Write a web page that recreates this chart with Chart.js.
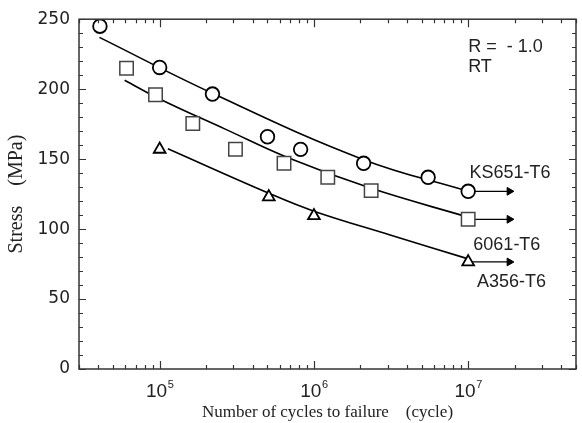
<!DOCTYPE html>
<html>
<head>
<meta charset="utf-8">
<script src="https://cdn.jsdelivr.net/npm/chart.js@4.4.1/dist/chart.umd.min.js"></script>
<style>
  html, body { margin: 0; padding: 0; background: #fff; }
</style>
</head>
<body>
<canvas id="grafico" width="582" height="423"></canvas>
<script>
// KS651-T6 (circulos)
const ks651X = [4.1e4, 1e5, 2.2e5, 5e5, 8.2e5, 2.1e6, 5.5e6, 1e7];
const ks651Y = [245, 215.5, 196.5, 166, 157, 147, 137, 127];
const ks651FitX = [4.07e4, 2.18e5, 2.08e6, 1e7];
const ks651FitY = [237, 197.2, 149.8, 127];

// 6061-T6 (quadrados)
const al6061X = [6.1e4, 9.4e4, 1.64e5, 3.1e5, 6.4e5, 1.23e6, 2.35e6, 1e7];
const al6061Y = [215, 196, 175.5, 157, 147, 137, 127.5, 107];
const al6061FitX = [5.93e4, 1e5, 2.64e5, 7e5, 2.35e6, 1e7];
const al6061FitY = [206.4, 193, 171.6, 150.4, 129.1, 108.5];

// A356-T6 (triangulos)
const a356X = [1e5, 5.1e5, 1e6, 1e7];
const a356Y = [157, 123, 109.5, 76.5];
const a356FitX = [1.13e5, 5.1e5, 1e6, 3.12e6, 1e7];
const a356FitY = [157.4, 125.6, 112.8, 95.8, 78.7];

// setas de run-out
const setaX = [1e7, 1.85e7];

// eixos
const xMin = 3e4;
const xMax = 5e7;
const xDecadas = [1e5, 1e6, 1e7];
const yTicks = [0, 50, 100, 150, 200, 250];

// textos no grafico
const notaTextos = ['R =  - 1.0', 'RT', 'KS651-T6', '6061-T6', 'A356-T6'];
const notaX = [1e7, 1e7, 1.02e7, 1.08e7, 1.14e7];
const notaY = [230, 215.5, 140, 88.7, 61.8];

function pontos(xs, ys) {
  return xs.map((v, i) => ({ x: v, y: ys[i] }));
}

function seta(y) {
  return {
    data: pontos(setaX, [y, y]),
    borderColor: "#000",
    backgroundColor: "#000",
    borderWidth: 1.3,
    pointStyle: "triangle",
    pointRotation: 90,
    pointRadius: [0, 4.5],
    pointBorderWidth: 1,
    showLine: true,
  };
}

function ajuste(xs, ys) {
  return {
    data: pontos(xs, ys),
    borderColor: "#000",
    borderWidth: 1.6,
    pointRadius: 0,
    tension: 0.4,
  };
}

const moldura = {
  id: "moldura",
  afterDraw(chart) {
    const { ctx, chartArea: a, scales } = chart;
    const x = scales.x, y = scales.y;
    ctx.save();
    ctx.strokeStyle = "#333";
    ctx.lineWidth = 1.5;
    ctx.strokeRect(a.left, a.top, a.right - a.left, a.bottom - a.top);

    // ticks para dentro, eixo x (log)
    ctx.lineWidth = 1.2;
    ctx.beginPath();
    for (let e = 4; e <= 7; e++) {
      for (let m = 1; m <= 9; m++) {
        const v = m * Math.pow(10, e);
        if (v < xMin || v > xMax) continue;
        const px = Math.round(x.getPixelForValue(v)) + 0.5;
        const len = m === 1 ? 8 : 4;
        ctx.moveTo(px, a.bottom);
        ctx.lineTo(px, a.bottom - len);
        ctx.moveTo(px, a.top);
        ctx.lineTo(px, a.top + len);
      }
    }
    // eixo y, a cada 10
    for (let v = 0; v <= 250; v += 10) {
      const py = Math.round(y.getPixelForValue(v)) + 0.5;
      const len = v % 50 === 0 ? 7 : 4;
      ctx.moveTo(a.left, py);
      ctx.lineTo(a.left + len, py);
      ctx.moveTo(a.right, py);
      ctx.lineTo(a.right - len, py);
    }
    ctx.stroke();

    // rotulos 10^n
    ctx.fillStyle = "#222";
    ctx.textBaseline = "alphabetic";
    ctx.textAlign = "left";
    const base = a.bottom + 28;
    xDecadas.forEach(function (v) {
      const exp = String(Math.round(Math.log10(v)));
      ctx.font = '19px "Liberation Sans"';
      const w1 = ctx.measureText("10").width;
      ctx.font = '11px "Liberation Sans"';
      const w2 = ctx.measureText(exp).width;
      const px = x.getPixelForValue(v);
      const inicio = px - (w1 + w2) / 2;
      ctx.font = '19px "Liberation Sans"';
      ctx.fillText("10", inicio, base);
      ctx.font = '11px "Liberation Sans"';
      ctx.fillText(exp, inicio + w1 + 0.5, base - 9);
    });

    // notas
    ctx.font = '18px "Liberation Sans"';
    ctx.textBaseline = "middle";
    for (let i = 0; i < notaTextos.length; i++) {
      ctx.fillText(notaTextos[i], x.getPixelForValue(notaX[i]), y.getPixelForValue(notaY[i]));
    }
    ctx.restore();
  },
};

const config = {
  type: "line",
  data: {
    datasets: [
      {
        label: "KS651-T6",
        data: pontos(ks651X, ks651Y),
        showLine: false,
        pointStyle: "circle",
        pointRadius: 6.8,
        pointBorderWidth: 1.8,
        borderColor: "#000",
        backgroundColor: "#fff",
      },
      {
        label: "6061-T6",
        data: pontos(al6061X, al6061Y),
        showLine: false,
        pointStyle: "rect",
        pointRadius: 9.5,
        pointBorderWidth: 1.5,
        borderColor: "#444",
        backgroundColor: "#fff",
      },
      {
        label: "A356-T6",
        data: pontos(a356X, a356Y),
        showLine: false,
        pointStyle: "triangle",
        pointRadius: 6.8,
        pointBorderWidth: 1.8,
        borderColor: "#000",
        backgroundColor: "#fff",
      },
      seta(ks651Y[ks651Y.length - 1]),
      seta(al6061Y[al6061Y.length - 1]),
      seta(a356Y[a356Y.length - 1]),
      ajuste(ks651FitX, ks651FitY),
      ajuste(al6061FitX, al6061FitY),
      ajuste(a356FitX, a356FitY),
    ],
  },
  options: {
    responsive: false,
    animation: false,
    layout: { autoPadding: false, padding: { top: 16, right: 6, left: 0, bottom: 0 } },
    plugins: {
      legend: { display: false },
      tooltip: { enabled: false },
    },
    scales: {
      x: {
        type: "logarithmic",
        min: xMin,
        max: xMax,
        grid: { display: false, drawTicks: false },
        border: { display: false },
        ticks: { display: false },
        title: {
          display: true,
          text: "Number of cycles to failure    (cycle)",
          color: "#222",
          font: { family: "Liberation Serif", size: 17 },
          padding: { top: 2, bottom: 0 },
        },
        afterFit(scale) {
          scale.height = 54;
        },
      },
      y: {
        min: 0,
        max: 250,
        afterBuildTicks(scale) {
          scale.ticks = yTicks.map((v) => ({ value: v }));
        },
        grid: { display: false, drawTicks: false },
        border: { display: false },
        ticks: {
          color: "#222",
          padding: 9,
          font: { family: "DejaVu Sans", size: 17 },
        },
        title: {
          display: true,
          text: "Stress    (MPa)",
          color: "#222",
          font: { family: "Liberation Serif", size: 20 },
          padding: { top: 5, bottom: 0 },
        },
        afterFit(scale) {
          scale.width = 79;
        },
      },
    },
  },
  plugins: [moldura],
};

new Chart(document.getElementById("grafico"), config);
</script>
</body>
</html>
